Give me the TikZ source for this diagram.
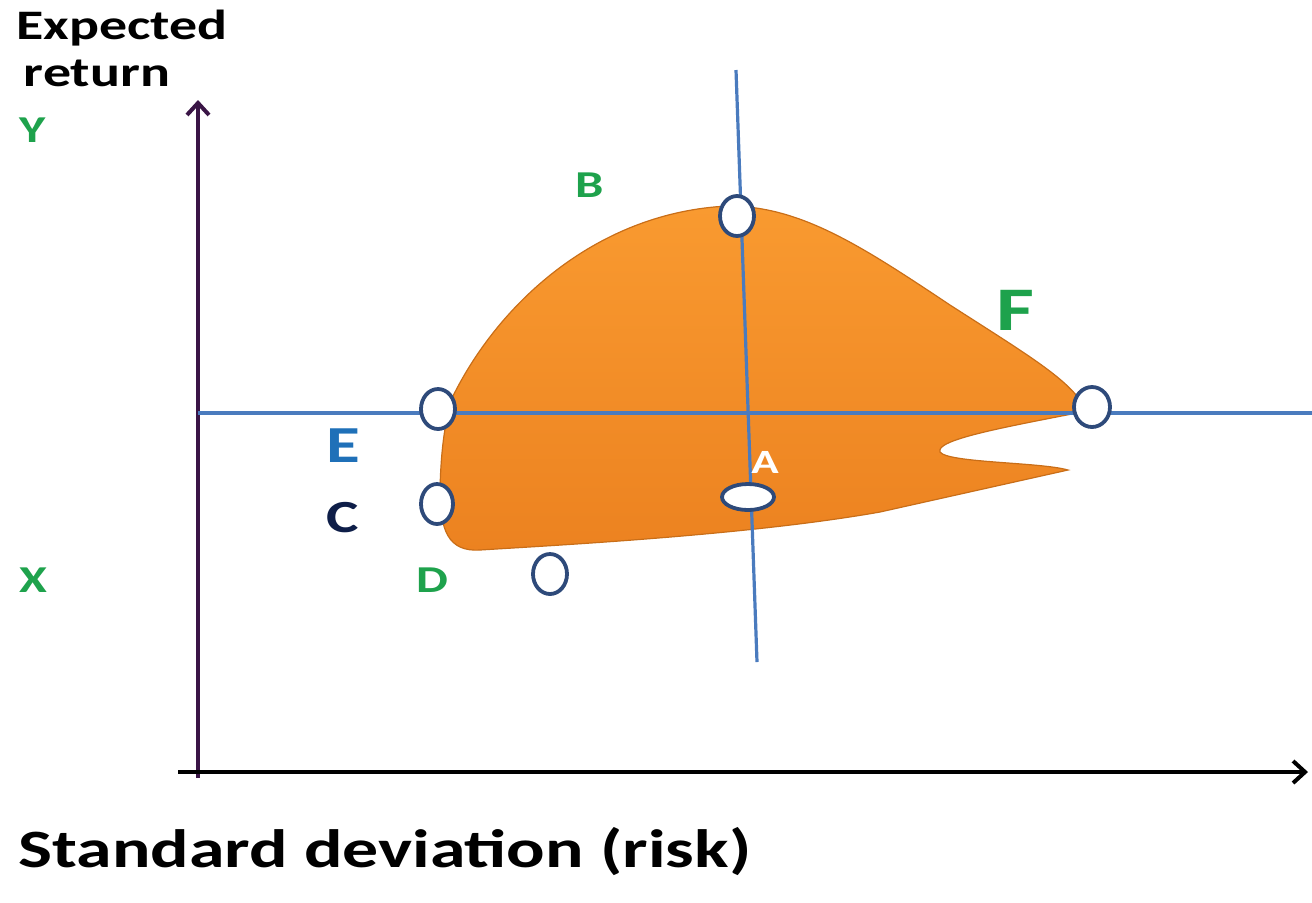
\documentclass[tikz,border=0pt]{standalone}
\usepackage{fontspec}
\setmainfont{Carlito}[FakeStretch=1.33]
\usetikzlibrary{arrows.meta,shapes.geometric}
\definecolor{axpurple}{HTML}{3A1546}
\definecolor{lineblue}{HTML}{4A7BBE}
\definecolor{ringblue}{HTML}{2E4A7A}
\definecolor{regtop}{HTML}{F99A30}
\definecolor{regbot}{HTML}{EC8220}
\definecolor{regedge}{HTML}{C96E18}
\definecolor{lblgreen}{HTML}{1EA24C}
\definecolor{lblblue}{HTML}{1F70B8}
\definecolor{lblnavy}{HTML}{0E1E48}
\tikzset{
  axis/.style={line width=2pt, -{Straight Barb[length=6pt,width=11pt,line width=2pt]}},
  guide/.style={draw=lineblue, line width=1.6pt},
  ring/.style={ellipse, draw=ringblue, fill=white, line width=1.9pt, inner sep=0pt,
    minimum width=17pt, minimum height=20pt},
  ptlabel/.style={font=\bfseries\fontsize{19}{19}\selectfont, text=lblgreen, inner sep=0pt},
  axlabel/.style={font=\bfseries\fontsize{21}{21}\selectfont, text=black, inner sep=0pt},
}
\begin{document}
\begin{tikzpicture}[x=0.5pt,y=-0.5pt]
  \useasboundingbox (0,0) rectangle (1312,902);
  % feasible region
  \shade[top color=regtop, bottom color=regbot, draw=regedge, line width=0.6pt]
    (452,398) .. controls (500,300) and (600,212) .. (728,206)
    .. controls (800,206) and (860,245) .. (950,305)
    .. controls (1020,350) and (1062,375) .. (1080,400)
    -- (1077,413)
    .. controls (1000,428) and (935,440) .. (940,452)
    .. controls (948,463) and (1040,462) .. (1068,470)
    -- (880,512)
    .. controls (750,535) and (560,545) .. (480,550)
    .. controls (448,552) and (440,530) .. (440,490)
    .. controls (441,445) and (446,418) .. (452,398);
  % axes
  \coordinate (yfoot) at (198,778);
  \coordinate (ytop) at (198,100);
  \coordinate (xfoot) at (178,772);
  \coordinate (xend) at (1308,772);
  \draw[axis, axpurple] (yfoot) -- (ytop);
  \draw[axis, black] (xfoot) -- (xend);
  % guide lines
  \coordinate (hl) at (198,413);
  \coordinate (hr) at (1312,413);
  \coordinate (vt) at (736,70);
  \coordinate (vb) at (757,662);
  \draw[guide] (hl) -- (hr);
  \draw[guide] (vt) -- (vb);
  % points
  \node[ring] (pb) at (737,216) {};
  \node[ring] (pe) at (438,409) {};
  \node[ring, minimum width=18pt] (pf) at (1092,407) {};
  \node[ring, minimum width=16pt] (pc) at (437,504) {};
  \node[ring, minimum width=26pt, minimum height=13pt] (pa) at (748,497) {};
  \node[ring] (pd) at (550,574) {};
  % labels
  \node[axlabel] (ylab) at (122,28) {Expected};
  \node[axlabel] (ylab2) at (97,73) {return};
  \node[ptlabel] (ly) at (33,130) {Y};
  \node[ptlabel] (lx) at (33,580) {X};
  \node[ptlabel] (lb) at (590,185) {B};
  \node[ptlabel, font=\bfseries\fontsize{31}{31}\selectfont] (lf) at (1015,310) {F};
  \node[ptlabel, text=lblblue, font=\bfseries\fontsize{26}{26}\selectfont] (le) at (343,446) {E};
  \node[ptlabel, text=lblnavy, font=\bfseries\fontsize{23}{23}\selectfont] (lc) at (343,518) {C};
  \node[ptlabel] (ld) at (432,580) {D};
  \node[ptlabel, text=white, font=\bfseries\fontsize{17}{17}\selectfont] (la) at (765,462) {A};
  \node[axlabel, font=\bfseries\fontsize{27}{27}\selectfont, anchor=west] (xlab) at (18,852) {Standard deviation (risk)};
\end{tikzpicture}
\end{document}
